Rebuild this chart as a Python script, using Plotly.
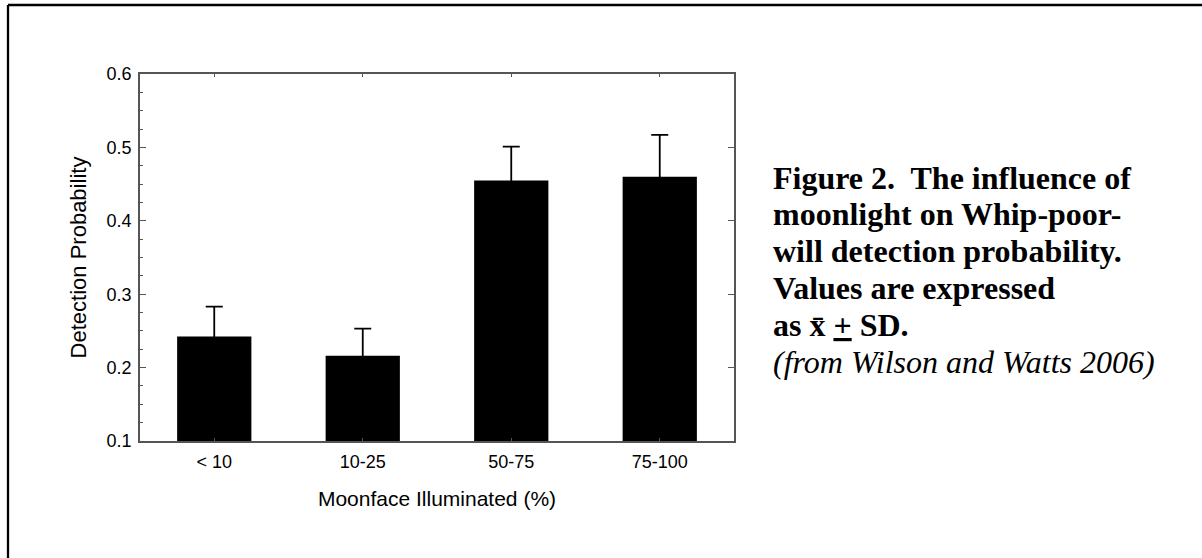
import plotly.graph_objects as go

# ---- data ----
categories = ["< 10", "10-25", "50-75", "75-100"]
detection_prob = [0.2425, 0.216, 0.455, 0.460]
sd_values = [0.0405, 0.037, 0.046, 0.057]
y_ticks = [0.1, 0.2, 0.3, 0.4, 0.5, 0.6]
x_title = "Moonface Illuminated (%)"
y_title = "Detection Probability"
caption_lines = [
    "<b>Figure 2.  The influence of</b>",
    "<b>moonlight on Whip-poor-</b>",
    "<b>will detection probability.</b>",
    "<b>Values are expressed</b>",
    "<b>as x\u0304 <u>+</u> SD.</b>",
    "<i>(from Wilson and Watts 2006)</i>",
]

# ---- layout geometry (pixels) ----
W, H = 1202, 558
L, R, T, B = 140, 734, 74, 441
pw, ph = R - L, B - T


def px(x):
    return (x - L) / pw


def py(y):
    return (B - y) / ph


axis_color = "#555555"
sans = "Liberation Sans, Arial, sans-serif"
serif = "Liberation Serif, Times New Roman, serif"

fig = go.Figure()
fig.add_trace(go.Bar(
    x=categories, y=detection_prob, width=0.5,
    marker=dict(color="black", line=dict(width=0)),
    error_y=dict(type="data", symmetric=False, array=sd_values,
                 arrayminus=[0.01] * len(sd_values),
                 color="black", thickness=1.8, width=8.5),
    showlegend=False, hoverinfo="x+y",
))
# invisible trace to carry the right-hand tick axis
fig.add_trace(go.Scatter(x=categories, y=[None] * len(categories), yaxis="y2",
                         showlegend=False, hoverinfo="skip"))

fig.update_layout(
    width=W, height=H,
    margin=dict(l=L, r=W - R, t=T, b=H - B, pad=0),
    paper_bgcolor="white", plot_bgcolor="white",
    font=dict(family=sans, color="black"),
    xaxis=dict(
        type="category", range=[-0.5, 3.5],
        showline=True, linecolor=axis_color, linewidth=1.5, mirror="ticks",
        ticks="inside", ticklen=3, tickcolor=axis_color, tickwidth=1,
        showgrid=False, zeroline=False,
        tickfont=dict(family=sans, size=18, color="black"),
        ticklabelstandoff=4,
        title=dict(text=x_title, font=dict(family=sans, size=21, color="black"), standoff=20),
    ),
    yaxis=dict(
        range=[0.1, 0.6], tickvals=y_ticks, tickformat=".1f",
        showline=True, linecolor=axis_color, linewidth=1.5, mirror=True,
        ticks="inside", ticklen=6, tickcolor=axis_color, tickwidth=1,
        minor=dict(dtick=0.025, ticks="inside", ticklen=3, tickcolor=axis_color, tickwidth=1),
        showgrid=False, zeroline=False,
        tickfont=dict(family=sans, size=18, color="black"),
        ticklabelstandoff=3,
        title=dict(text=y_title, font=dict(family=sans, size=22, color="black"), standoff=14),
    ),
    yaxis2=dict(
        overlaying="y", side="right", range=[0.1, 0.6], tickvals=y_ticks,
        ticks="inside", ticklen=6, tickcolor=axis_color, tickwidth=1,
        showticklabels=False, showline=False, showgrid=False, zeroline=False,
    ),
)

# caption lines
line_mid = [177.5, 214.4, 251.2, 288.1, 325.0, 361.8]
for txt, ym in zip(caption_lines, line_mid):
    fig.add_annotation(
        text=txt, xref="paper", yref="paper", x=px(771), y=py(ym),
        xanchor="left", yanchor="middle", showarrow=False,
        font=dict(family=serif, size=32, color="black"),
    )

# outer frame (left and top edges of the page box)
frame = dict(color="black", width=2.3)
fig.add_shape(type="line", xref="paper", yref="paper",
              x0=px(8), x1=px(8), y0=py(5), y1=py(700), line=frame)
fig.add_shape(type="line", xref="paper", yref="paper",
              x0=px(8), x1=px(1400), y0=py(5), y1=py(5), line=frame)

fig.write_html("out.html", config={"displayModeBar": False},
               post_script="document.body.style.margin='0';document.body.style.overflow='hidden';")
